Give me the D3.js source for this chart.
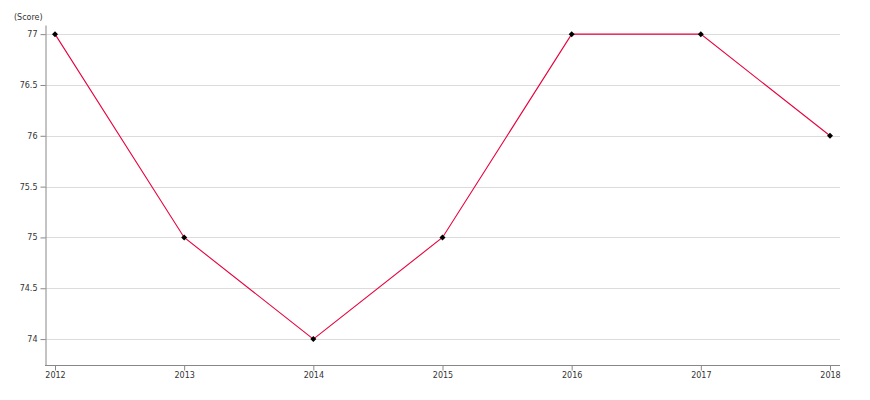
<!DOCTYPE html>
<html><head><meta charset="utf-8">
<script src="https://cdn.jsdelivr.net/npm/d3@7"></script>
<style>body{margin:0;background:#fff}svg{display:block;font-family:"DejaVu Sans",sans-serif}</style>
</head><body><svg id="c" width="870" height="400"></svg>
<script>
const years = ["2012","2013","2014","2015","2016","2017","2018"];
const scores = [77, 75, 74, 75, 77, 77, 76];
const yTicks = [74, 74.5, 75, 75.5, 76, 76.5, 77];
const yUnit = "(Score)";

const svg = d3.select("#c");
const x = d3.scalePoint().domain(years).range([55, 830]);
const y = d3.scaleLinear().domain([73.745, 77.09]).range([365, 25]);

// gridlines
svg.append("g").selectAll("line").data(yTicks).join("line")
  .attr("x1", 45).attr("x2", 840)
  .attr("y1", d => Math.round(y(d)) + 0.5).attr("y2", d => Math.round(y(d)) + 0.5)
  .attr("stroke", "#dcdcdc").attr("stroke-width", 1);

// y axis
const ya = svg.append("g").attr("transform", "translate(45.5,0)")
  .call(d3.axisLeft(y).tickValues(yTicks).tickFormat(d => d).tickSize(5).tickSizeOuter(0));
// x axis
const xa = svg.append("g").attr("transform", "translate(0,365.5)")
  .call(d3.axisBottom(x).tickSize(5).tickSizeOuter(0));
xa.select(".domain").attr("d", "M45,0H840");
[ya, xa].forEach(a => {
  a.select(".domain").attr("stroke", "#888");
  a.selectAll(".tick line").attr("stroke", "#888");
  a.selectAll("text").attr("fill", "#333").style("font-size", "8px").style("font-family", "DejaVu Sans, sans-serif");
});
ya.selectAll("text").attr("x", -8);
xa.selectAll("text").attr("y", 7);

svg.append("text").attr("x", 14).attr("y", 20).text(yUnit)
  .attr("fill", "#333").style("font-size", "8px");

// line
const data = years.map((yr, i) => ({yr, v: scores[i]}));
svg.append("path").datum(data)
  .attr("fill", "none").attr("stroke", "#e8003d").attr("stroke-width", 1.1)
  .attr("d", d3.line().x(d => x(d.yr)).y(d => y(d.v)));

// markers
svg.append("g").selectAll("path").data(data).join("path")
  .attr("transform", d => `translate(${x(d.yr)},${y(d.v)}) rotate(45)`)
  .attr("d", d3.symbol(d3.symbolSquare, 18))
  .attr("fill", "#000");
</script></body></html>
